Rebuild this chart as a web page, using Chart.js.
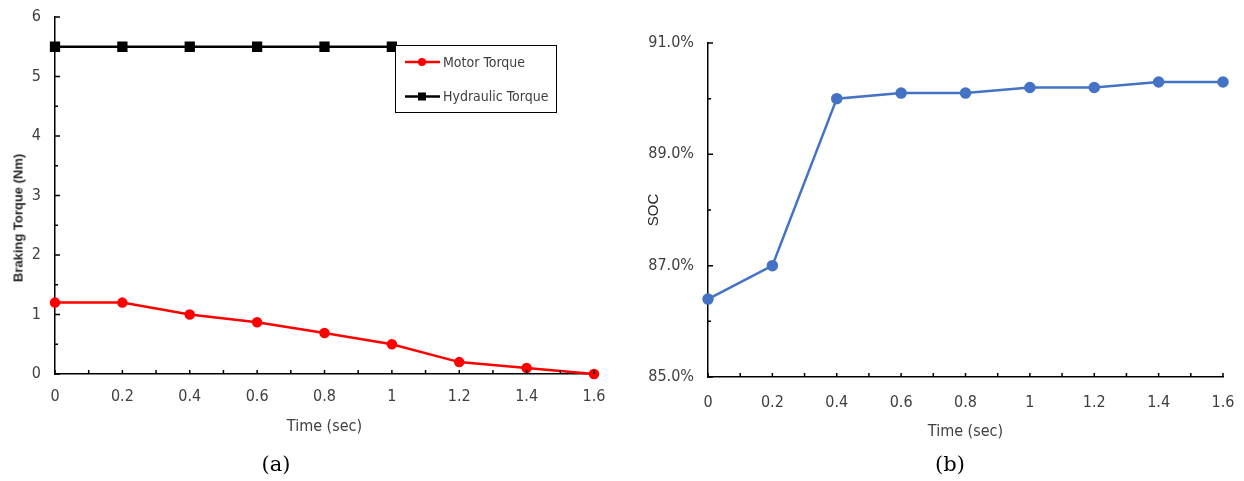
<!DOCTYPE html>
<html>
<head>
<meta charset="utf-8">
<script src="https://cdn.jsdelivr.net/npm/chart.js@4"></script>
<style>
  body { margin: 0; background: #fff; width: 1244px; height: 481px; position: relative; overflow: hidden; }
  canvas { position: absolute; top: 0; }
  #torqueChart { left: 0; }
  #socChart { left: 620px; }
  .cap { position: absolute; top: 452px; width: 100px; text-align: center; font: 21px "DejaVu Serif", serif; color: #000; }
  #torqueTitle {
    position: absolute; left: 18px; top: 218px; white-space: nowrap;
    transform: translate(-50%, -50%) rotate(-90deg);
    font: bold 13px "Liberation Sans", Arial, sans-serif; color: #262626;
  }
</style>
</head>
<body>
<canvas id="torqueChart" width="620" height="481"></canvas>
<canvas id="socChart" width="624" height="481"></canvas>
<div id="torqueTitle">Braking Torque (Nm)</div>
<div class="cap" style="left:226px">(a)</div>
<div class="cap" style="left:900px">(b)</div>
<script>
// data
const times = [0, 0.2, 0.4, 0.6, 0.8, 1, 1.2, 1.4, 1.6];
const motorTorque = [1.2, 1.2, 1.0, 0.87, 0.69, 0.5, 0.2, 0.1, 0];
const hydraulicTimes = [0, 0.2, 0.4, 0.6, 0.8, 1];
const hydraulicTorque = [5.5, 5.5, 5.5, 5.5, 5.5, 5.5];
const socValues = [86.4, 87.0, 90.0, 90.1, 90.1, 90.2, 90.2, 90.3, 90.3];

// ticks
const timeTicks = [0, 0.2, 0.4, 0.6, 0.8, 1, 1.2, 1.4, 1.6];
const timeMinorTicks = [0.1, 0.3, 0.5, 0.7, 0.9, 1.1, 1.3, 1.5];
const torqueTicks = [0, 1, 2, 3, 4, 5, 6];
const torqueMinorTicks = [0.5, 1.5, 2.5, 3.5, 4.5, 5.5];
const socTicks = [85, 87, 89, 91];
const socMinorTicks = [86, 88, 90];

const tickFont = { family: '"Liberation Sans Narrow", "DejaVu Sans Condensed", sans-serif', size: 16 };
const textColor = '#404040';

// tick marks drawn inside the plot, like the original
const innerTicks = {
  id: 'innerTicks',
  afterDraw(chart, args, opts) {
    const ctx = chart.ctx;
    const x = chart.scales.x, y = chart.scales.y;
    ctx.save();
    ctx.strokeStyle = '#000';
    ctx.lineWidth = 1.5;
    ctx.beginPath();
    timeTicks.concat(timeMinorTicks).forEach(v => {
      const px = x.getPixelForValue(v);
      ctx.moveTo(px, y.bottom);
      ctx.lineTo(px, y.bottom - 4);
    });
    opts.yMajor.forEach(v => {
      const py = y.getPixelForValue(v);
      ctx.moveTo(x.left, py);
      ctx.lineTo(x.left + 5, py);
    });
    opts.yMinor.forEach(v => {
      const py = y.getPixelForValue(v);
      ctx.moveTo(x.left, py);
      ctx.lineTo(x.left + 3, py);
    });
    ctx.stroke();
    ctx.restore();
  }
};

// boxed legend inside the torque plot
const boxLegend = {
  id: 'boxLegend',
  afterDraw(chart, args, opts) {
    if (!opts.show) return;
    const ctx = chart.ctx;
    ctx.save();
    ctx.fillStyle = '#fff';
    ctx.fillRect(395, 45.5, 162, 67);
    ctx.strokeStyle = '#000';
    ctx.lineWidth = 1;
    ctx.strokeRect(395.5, 45.5, 161, 67);
    ctx.font = '14px ' + tickFont.family;
    ctx.textBaseline = 'middle';
    chart.data.datasets.forEach((ds, i) => {
      const yy = 62 + i * 34.5;
      ctx.strokeStyle = ds.borderColor;
      ctx.lineWidth = 2.5;
      ctx.beginPath();
      ctx.moveTo(405, yy);
      ctx.lineTo(440, yy);
      ctx.stroke();
      ctx.fillStyle = ds.borderColor;
      if (ds.pointStyle === 'rect') {
        ctx.fillRect(418, yy - 4, 8, 8);
      } else {
        ctx.beginPath();
        ctx.arc(422, yy, 4, 0, Math.PI * 2);
        ctx.fill();
      }
      ctx.fillStyle = textColor;
      ctx.fillText(ds.label, 443, yy + 1);
    });
    ctx.restore();
  }
};

function xScale(height, labelPad, titleBottom) {
  return {
    type: 'linear',
    min: 0,
    max: 1.6,
    afterBuildTicks: s => { s.ticks = timeTicks.map(v => ({ value: v })); },
    afterFit: s => { s.height = height; s.paddingLeft = 0; s.paddingRight = 0; },
    grid: { drawOnChartArea: false, drawTicks: false },
    border: { color: '#000', width: 1.5 },
    ticks: { color: textColor, font: tickFont, padding: labelPad, autoSkip: false, maxRotation: 0, callback: v => String(v) },
    title: { display: true, text: 'Time (sec)', color: textColor, font: tickFont, padding: { top: 0, bottom: titleBottom } }
  };
}

new Chart(document.getElementById('torqueChart'), {
  type: 'line',
  data: {
    datasets: [
      {
        label: 'Motor Torque',
        data: times.map((t, i) => ({ x: t, y: motorTorque[i] })),
        borderColor: '#ff0000',
        backgroundColor: '#ff0000',
        borderWidth: 2.5,
        pointStyle: 'circle',
        pointRadius: 4,
        clip: false
      },
      {
        label: 'Hydraulic Torque',
        data: hydraulicTimes.map((t, i) => ({ x: t, y: hydraulicTorque[i] })),
        borderColor: '#000000',
        backgroundColor: '#000000',
        borderWidth: 2.5,
        pointStyle: 'rect',
        pointRadius: 5.5,
        clip: false
      }
    ]
  },
  options: {
    responsive: false,
    animation: false,
    layout: { padding: { left: 0, right: 26, top: 17, bottom: 0 } },
    plugins: {
      legend: { display: false },
      tooltip: { enabled: false },
      innerTicks: { yMajor: torqueTicks, yMinor: torqueMinorTicks },
      boxLegend: { show: true }
    },
    scales: {
      x: xScale(107, 13, 45),
      y: {
        min: 0,
        max: 6,
        afterBuildTicks: s => { s.ticks = torqueTicks.map(v => ({ value: v })); },
        afterFit: s => { s.width = 55; s.paddingTop = 0; s.paddingBottom = 0; },
        grid: { drawOnChartArea: false, drawTicks: false },
        border: { color: '#000', width: 1.5 },
        ticks: { color: textColor, font: tickFont, padding: 14 }
      }
    }
  },
  plugins: [innerTicks, boxLegend]
});

new Chart(document.getElementById('socChart'), {
  type: 'line',
  data: {
    datasets: [
      {
        label: 'SOC',
        data: times.map((t, i) => ({ x: t, y: socValues[i] })),
        borderColor: '#4472c4',
        backgroundColor: '#4472c4',
        borderWidth: 2.5,
        pointRadius: 4.5,
        clip: false
      }
    ]
  },
  options: {
    responsive: false,
    animation: false,
    layout: { padding: { left: 0, right: 21, top: 43, bottom: 0 } },
    plugins: {
      legend: { display: false },
      tooltip: { enabled: false },
      innerTicks: { yMajor: socTicks, yMinor: socMinorTicks },
      boxLegend: { show: false }
    },
    scales: {
      x: xScale(104, 16, 40),
      y: {
        min: 85,
        max: 91,
        afterBuildTicks: s => { s.ticks = socTicks.map(v => ({ value: v })); },
        afterFit: s => { s.width = 88; s.paddingTop = 0; s.paddingBottom = 0; },
        grid: { drawOnChartArea: false, drawTicks: false },
        border: { color: '#000', width: 1.5 },
        ticks: { color: textColor, font: tickFont, padding: 14, callback: v => v.toFixed(1) + '%' },
        title: {
          display: true,
          text: 'SOC',
          color: '#262626',
          font: { family: '"Liberation Sans", Arial, sans-serif', size: 15 },
          padding: { top: 25, bottom: 0 }
        }
      }
    }
  },
  plugins: [innerTicks, boxLegend]
});
</script>
</body>
</html>
